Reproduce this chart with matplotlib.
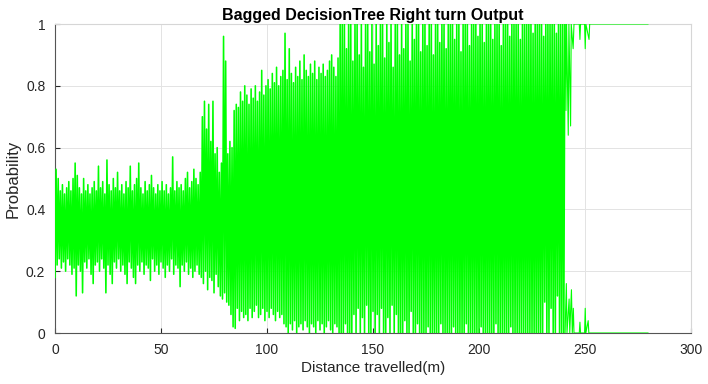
import numpy as np
import matplotlib.pyplot as plt
from matplotlib.ticker import FormatStrFormatter

plt.rcParams['font.family'] = ['Liberation Sans', 'DejaVu Sans']

# per-metre envelope of the classifier output, 0 m .. 240 m
dist_start = 0
upper = [
    0.53, 0.50, 0.46, 0.48, 0.45, 0.47, 0.49, 0.46, 0.50, 0.55,
    0.51, 0.47, 0.45, 0.50, 0.46, 0.48, 0.45, 0.47, 0.49, 0.46,
    0.54, 0.47, 0.49, 0.45, 0.56, 0.48, 0.46, 0.50, 0.47, 0.52,
    0.46, 0.48, 0.45, 0.49, 0.47, 0.54, 0.46, 0.48, 0.50, 0.55,
    0.47, 0.45, 0.49, 0.46, 0.48, 0.51, 0.47, 0.45, 0.48, 0.46,
    0.49, 0.46, 0.48, 0.45, 0.47, 0.57, 0.46, 0.49, 0.47, 0.48,
    0.46, 0.50, 0.52, 0.47, 0.49, 0.53, 0.50, 0.48, 0.52, 0.70,
    0.75, 0.66, 0.74, 0.62, 0.75, 0.58, 0.60, 0.52, 0.55, 0.96,
    0.88, 0.58, 0.62, 0.60, 0.72, 0.74, 0.73, 0.78, 0.75, 0.80,
    0.77, 0.74, 0.79, 0.76, 0.80, 0.75, 0.78, 0.85, 0.77, 0.80,
    0.82, 0.79, 0.84, 0.81, 0.86, 0.80, 0.83, 0.85, 0.97, 0.82,
    0.92, 0.84, 0.81, 0.86, 0.83, 0.88, 0.82, 0.90, 0.85, 0.83,
    0.87, 0.84, 0.88, 0.82, 0.86, 0.84, 0.87, 0.83, 0.85, 0.88,
    0.90, 0.86, 0.83, 0.89, 1.00, 1.00, 1.00, 0.92, 1.00, 1.00,
    0.88, 1.00, 1.00, 0.90, 1.00, 0.86, 1.00, 1.00, 0.91, 1.00,
    0.87, 1.00, 0.93, 1.00, 1.00, 0.89, 1.00, 0.94, 1.00, 0.86,
    1.00, 1.00, 0.90, 1.00, 0.92, 1.00, 1.00, 0.88, 1.00, 0.95,
    1.00, 1.00, 0.91, 1.00, 1.00, 0.93, 1.00, 1.00, 0.90, 1.00,
    1.00, 0.94, 1.00, 1.00, 0.92, 1.00, 1.00, 1.00, 0.95, 1.00,
    1.00, 0.91, 1.00, 1.00, 1.00, 0.93, 1.00, 1.00, 1.00, 0.96,
    1.00, 1.00, 0.94, 1.00, 1.00, 1.00, 0.95, 1.00, 1.00, 1.00,
    0.93, 1.00, 1.00, 1.00, 0.96, 1.00, 1.00, 1.00, 1.00, 0.95,
    1.00, 1.00, 1.00, 1.00, 1.00, 0.97, 1.00, 1.00, 1.00, 1.00,
    0.96, 1.00, 1.00, 1.00, 1.00, 1.00, 0.97, 1.00, 1.00, 1.00,
    1.00,
]
lower = [
    0.18, 0.22, 0.24, 0.21, 0.23, 0.20, 0.24, 0.22, 0.19, 0.21,
    0.12, 0.22, 0.20, 0.13, 0.23, 0.21, 0.24, 0.19, 0.16, 0.22,
    0.23, 0.20, 0.24, 0.21, 0.13, 0.22, 0.19, 0.16, 0.23, 0.21,
    0.24, 0.20, 0.22, 0.19, 0.16, 0.23, 0.21, 0.18, 0.16, 0.22,
    0.20, 0.23, 0.19, 0.22, 0.21, 0.17, 0.24, 0.20, 0.22, 0.19,
    0.23, 0.21, 0.18, 0.22, 0.20, 0.24, 0.19, 0.22, 0.21, 0.15,
    0.22, 0.20, 0.23, 0.19, 0.21, 0.18, 0.20, 0.22, 0.19, 0.18,
    0.16, 0.20, 0.14, 0.18, 0.17, 0.13, 0.19, 0.15, 0.12, 0.11,
    0.13, 0.10, 0.09, 0.06, 0.02, 0.015, 0.08, 0.04, 0.07, 0.05,
    0.06, 0.04, 0.08, 0.05, 0.07, 0.09, 0.05, 0.06, 0.08, 0.04,
    0.07, 0.05, 0.08, 0.06, 0.04, 0.07, 0.05, 0.06, 0.03, 0.02,
    0.00, 0.03, 0.01, 0.04, 0.00, 0.02, 0.03, 0.01, 0.04, 0.02,
    0.00, 0.03, 0.02, 0.00, 0.04, 0.01, 0.03, 0.00, 0.02, 0.04,
    0.01, 0.00, 0.03, 0.02, 0.00, 0.00, 0.00, 0.03, 0.00, 0.00,
    0.00, 0.06, 0.00, 0.08, 0.00, 0.05, 0.00, 0.09, 0.00, 0.00,
    0.07, 0.00, 0.06, 0.00, 0.08, 0.00, 0.00, 0.05, 0.00, 0.09,
    0.00, 0.06, 0.00, 0.00, 0.00, 0.04, 0.00, 0.00, 0.07, 0.00,
    0.00, 0.03, 0.00, 0.00, 0.00, 0.00, 0.02, 0.00, 0.00, 0.00,
    0.00, 0.00, 0.03, 0.00, 0.00, 0.00, 0.00, 0.00, 0.02, 0.00,
    0.00, 0.00, 0.00, 0.00, 0.03, 0.00, 0.00, 0.00, 0.00, 0.00,
    0.00, 0.02, 0.00, 0.00, 0.00, 0.00, 0.00, 0.00, 0.03, 0.00,
    0.00, 0.00, 0.00, 0.00, 0.00, 0.02, 0.00, 0.00, 0.00, 0.00,
    0.00, 0.00, 0.00, 0.00, 0.00, 0.00, 0.00, 0.00, 0.00, 0.00,
    0.00, 0.10, 0.00, 0.00, 0.08, 0.00, 0.00, 0.12, 0.00, 0.00,
    0.00,
]

# after 240 m the output sticks to 1 and 0 with a few short excursions
tail_top_d = [240.6, 241.0, 241.3, 242.1, 242.4, 243.2, 243.5, 244.4, 244.8,
              247.3, 247.6, 247.9, 249.8, 250.1, 250.4, 251.9, 252.2, 279.7]
tail_top_p = [1.00, 0.72, 1.00, 0.64, 1.00, 0.67, 1.00, 0.92, 1.00,
              1.00, 0.95, 1.00, 1.00, 0.92, 1.00, 0.95, 1.00, 1.00]
tail_bot_d = [240.6, 241.2, 241.5, 242.5, 242.8, 243.6, 244.0, 244.5, 244.8,
              247.3, 247.6, 247.9, 249.8, 250.1, 250.4, 251.5, 251.8, 279.7]
tail_bot_p = [0.00, 0.16, 0.00, 0.11, 0.00, 0.14, 0.00, 0.08, 0.00,
              0.00, 0.035, 0.00, 0.00, 0.08, 0.00, 0.04, 0.00, 0.00]

x_ticks = [0, 50, 100, 150, 200, 250, 300]
y_ticks = [0, 0.2, 0.4, 0.6, 0.8, 1]

# rebuild the oscillating trace: swing low -> high every half metre
d = dist_start + np.arange(len(upper))
trace_x = np.empty(2 * len(d))
trace_y = np.empty(2 * len(d))
trace_x[0::2] = d
trace_x[1::2] = d + 0.5
trace_y[0::2] = lower
trace_y[1::2] = upper

fig = plt.figure(figsize=(7.08, 3.84), dpi=100)
ax = fig.add_axes([0.0777, 0.1328, 0.8983, 0.8047])

green = '#00ff00'
ax.plot(trace_x, trace_y, color=green, lw=1.15, zorder=3)
ax.plot(tail_top_d, tail_top_p, color=green, lw=0.8, zorder=3)
ax.plot(tail_bot_d, tail_bot_p, color=green, lw=0.8, zorder=3)

ax.set_xlim(0, 300)
ax.set_ylim(0, 1)
ax.set_xticks(x_ticks)
ax.set_yticks(y_ticks)
ax.yaxis.set_major_formatter(FormatStrFormatter('%g'))
ax.grid(True, color='#e3e3e3', lw=0.7)
ax.set_axisbelow(True)
ax.tick_params(direction='in', length=3.5, width=0.8, labelsize=10,
               colors='#262626', pad=7)
for side in ['left', 'bottom']:
    ax.spines[side].set_color('#555555')
    ax.spines[side].set_linewidth(0.8)
for side in ['top', 'right']:
    ax.spines[side].set_color('#d6d6d6')
    ax.spines[side].set_linewidth(0.8)

ax.set_title('Bagged DecisionTree Right turn Output', fontsize=11.5,
             fontweight='bold', pad=3)
ax.set_xlabel('Distance travelled(m)', fontsize=11, color='#262626', labelpad=3)
ax.set_ylabel('Probability', fontsize=12, color='#262626', labelpad=4)

fig.savefig('out.png', dpi=100)
